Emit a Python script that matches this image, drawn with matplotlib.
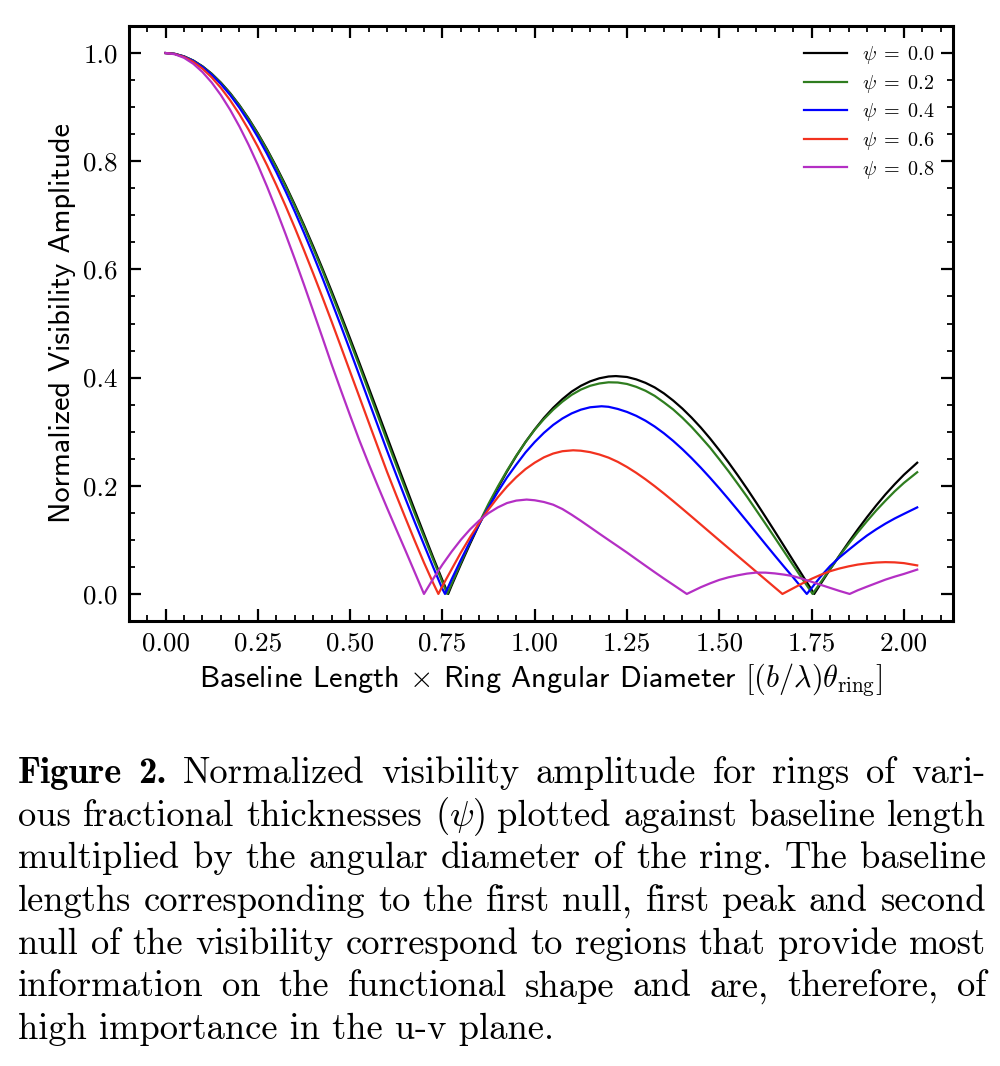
import matplotlib
matplotlib.use("Agg")
import matplotlib.pyplot as plt
from matplotlib.ticker import MultipleLocator, FormatStrFormatter

# ---------------- data ----------------
psi_labels = [r"$\psi\;=\;0.0$", r"$\psi\;=\;0.2$", r"$\psi\;=\;0.4$", r"$\psi\;=\;0.6$", r"$\psi\;=\;0.8$"]
psi_colors = ["#000000", "#2f7d1f", "#0000ff", "#f2321f", "#b42fc4"]

x_psi00 = [0.000, 0.025, 0.050, 0.075, 0.100, 0.125, 0.150, 0.175, 0.200, 0.225, 0.250, 0.275,
           0.300, 0.325, 0.350, 0.375, 0.400, 0.425, 0.450, 0.475, 0.500, 0.525, 0.550, 0.575,
           0.600, 0.625, 0.650, 0.675, 0.700, 0.725, 0.750, 0.7655, 0.775, 0.800, 0.825, 0.850,
           0.875, 0.900, 0.925, 0.950, 0.975, 1.000, 1.025, 1.050, 1.075, 1.100, 1.125, 1.150,
           1.175, 1.200, 1.2197, 1.250, 1.275, 1.300, 1.325, 1.350, 1.375, 1.400, 1.425, 1.450,
           1.475, 1.500, 1.525, 1.550, 1.575, 1.600, 1.625, 1.650, 1.675, 1.700, 1.725, 1.750,
           1.757, 1.775, 1.800, 1.825, 1.850, 1.875, 1.900, 1.925, 1.950, 1.975, 2.000, 2.036]
v_psi00 = [1.0, 0.9985, 0.9938, 0.9862, 0.9755, 0.9618, 0.9452, 0.9259, 0.9037, 0.8789, 0.8516,
           0.8219, 0.7899, 0.7559, 0.7198, 0.6820, 0.6425, 0.6016, 0.5594, 0.5161, 0.4720,
           0.4272, 0.3819, 0.3363, 0.2905, 0.2449, 0.1997, 0.1549, 0.1110, 0.0675, 0.0254, 0.0,
           0.0156, 0.0549, 0.0929, 0.1292, 0.1640, 0.1961, 0.2266, 0.2550, 0.2810, 0.3042,
           0.3255, 0.3441, 0.3602, 0.3741, 0.3848, 0.3930, 0.3987, 0.4020, 0.4028, 0.4011,
           0.3967, 0.3903, 0.3818, 0.3708, 0.3576, 0.3427, 0.3259, 0.3075, 0.2874, 0.2658,
           0.2431, 0.2193, 0.1946, 0.1689, 0.1426, 0.1159, 0.0889, 0.0617, 0.0346, 0.0076, 0.0,
           0.0191, 0.0454, 0.0707, 0.0954, 0.1192, 0.1420, 0.1636, 0.1840, 0.2028, 0.2203, 0.2426]

x_psi02 = [0.000, 0.025, 0.050, 0.075, 0.100, 0.125, 0.150, 0.175, 0.200, 0.225, 0.250, 0.275,
           0.300, 0.325, 0.350, 0.375, 0.400, 0.425, 0.450, 0.475, 0.500, 0.525, 0.550, 0.575,
           0.600, 0.625, 0.650, 0.675, 0.700, 0.725, 0.750, 0.763, 0.775, 0.800, 0.825, 0.850,
           0.875, 0.900, 0.925, 0.950, 0.975, 1.000, 1.025, 1.050, 1.075, 1.100, 1.125, 1.150,
           1.175, 1.200, 1.225, 1.250, 1.275, 1.300, 1.325, 1.350, 1.375, 1.400, 1.425, 1.450,
           1.475, 1.500, 1.525, 1.550, 1.575, 1.600, 1.625, 1.650, 1.675, 1.700, 1.725, 1.750,
           1.7527, 1.775, 1.800, 1.825, 1.850, 1.875, 1.900, 1.925, 1.950, 1.975, 2.000, 2.036]
v_psi02 = [1.0, 0.9985, 0.9938, 0.9860, 0.9752, 0.9614, 0.9447, 0.9251, 0.9028, 0.8778, 0.8502,
           0.8202, 0.7880, 0.7537, 0.7172, 0.6791, 0.6388, 0.5979, 0.5548, 0.5111, 0.4665,
           0.4216, 0.3755, 0.3295, 0.2834, 0.2381, 0.1933, 0.1488, 0.1060, 0.0633, 0.0216, 0.0,
           0.0188, 0.0581, 0.0960, 0.1322, 0.1668, 0.1985, 0.2281, 0.2556, 0.2807, 0.3036,
           0.3233, 0.3406, 0.3555, 0.3681, 0.3778, 0.3848, 0.3891, 0.3913, 0.3909, 0.3882,
           0.3829, 0.3757, 0.3662, 0.3541, 0.3411, 0.3257, 0.3087, 0.2899, 0.2705, 0.2489,
           0.2268, 0.2035, 0.1798, 0.1548, 0.1298, 0.1044, 0.0788, 0.0532, 0.0278, 0.0027, 0.0,
           0.0220, 0.0461, 0.0699, 0.0923, 0.1140, 0.1346, 0.1543, 0.1724, 0.1897, 0.2053, 0.2250]

x_psi04 = [0.000, 0.025, 0.050, 0.075, 0.100, 0.125, 0.150, 0.175, 0.200, 0.225, 0.250, 0.275,
           0.300, 0.325, 0.350, 0.375, 0.400, 0.425, 0.450, 0.475, 0.500, 0.525, 0.550, 0.575,
           0.600, 0.625, 0.650, 0.675, 0.700, 0.725, 0.750, 0.757, 0.775, 0.800, 0.825, 0.850,
           0.875, 0.900, 0.925, 0.950, 0.975, 1.000, 1.025, 1.050, 1.075, 1.100, 1.125, 1.150,
           1.181, 1.200, 1.225, 1.250, 1.275, 1.300, 1.325, 1.350, 1.375, 1.400, 1.425, 1.450,
           1.475, 1.500, 1.525, 1.550, 1.575, 1.600, 1.625, 1.650, 1.675, 1.700, 1.737, 1.750,
           1.775, 1.800, 1.825, 1.850, 1.875, 1.900, 1.925, 1.950, 1.975, 2.000, 2.036]
v_psi04 = [1.0, 0.9984, 0.9935, 0.9855, 0.9743, 0.9599, 0.9426, 0.9223, 0.8991, 0.8731, 0.8446,
           0.8135, 0.7801, 0.7446, 0.7070, 0.6676, 0.6266, 0.5841, 0.5402, 0.4956, 0.4500,
           0.4038, 0.3573, 0.3110, 0.2648, 0.2200, 0.1759, 0.1328, 0.0911, 0.0495, 0.0092, 0.0,
           0.0272, 0.0630, 0.0970, 0.1295, 0.1601, 0.1888, 0.2155, 0.2391, 0.2616, 0.2809,
           0.2979, 0.3125, 0.3244, 0.3338, 0.3407, 0.3451, 0.3470, 0.3460, 0.3420, 0.3365,
           0.3293, 0.3203, 0.3095, 0.2970, 0.2830, 0.2676, 0.2510, 0.2333, 0.2147, 0.1953,
           0.1753, 0.1548, 0.1340, 0.1130, 0.0920, 0.0712, 0.0507, 0.0307, 0.0, 0.0110, 0.0325,
           0.0515, 0.0672, 0.0813, 0.0950, 0.1080, 0.1195, 0.1300, 0.1395, 0.1480, 0.1600]

x_psi06 = [0.000, 0.025, 0.050, 0.075, 0.100, 0.125, 0.150, 0.175, 0.200, 0.225, 0.250, 0.275,
           0.300, 0.325, 0.350, 0.375, 0.400, 0.425, 0.450, 0.475, 0.500, 0.525, 0.550, 0.575,
           0.600, 0.625, 0.650, 0.675, 0.700, 0.725, 0.739, 0.750, 0.775, 0.800, 0.825, 0.850,
           0.875, 0.900, 0.925, 0.950, 0.975, 1.000, 1.025, 1.050, 1.075, 1.104, 1.125, 1.150,
           1.175, 1.200, 1.225, 1.250, 1.275, 1.300, 1.325, 1.350, 1.375, 1.400, 1.425, 1.450,
           1.475, 1.500, 1.525, 1.550, 1.575, 1.600, 1.625, 1.650, 1.671, 1.700, 1.725, 1.750,
           1.775, 1.800, 1.825, 1.850, 1.875, 1.900, 1.925, 1.950, 1.975, 2.000, 2.036]
v_psi06 = [1.0, 0.9982, 0.9927, 0.9837, 0.9711, 0.9550, 0.9355, 0.9128, 0.8870, 0.8582, 0.8267,
           0.7925, 0.7559, 0.7175, 0.6773, 0.6354, 0.5924, 0.5484, 0.5033, 0.4572, 0.4106,
           0.3643, 0.3178, 0.2716, 0.2257, 0.1824, 0.1400, 0.0983, 0.0579, 0.0200, 0.0, 0.0147,
           0.0458, 0.0766, 0.1050, 0.1318, 0.1564, 0.1786, 0.1986, 0.2159, 0.2308, 0.2427,
           0.2526, 0.2596, 0.2639, 0.2656, 0.2648, 0.2622, 0.2578, 0.2520, 0.2442, 0.2347,
           0.2239, 0.2120, 0.1992, 0.1857, 0.1717, 0.1574, 0.1429, 0.1283, 0.1137, 0.0991,
           0.0846, 0.0701, 0.0556, 0.0411, 0.0266, 0.0121, 0.0, 0.0105, 0.0195, 0.0280, 0.0355,
           0.0420, 0.0470, 0.0510, 0.0543, 0.0565, 0.0581, 0.0588, 0.0584, 0.0570, 0.0528]

x_psi08 = [0.000, 0.025, 0.050, 0.075, 0.100, 0.125, 0.150, 0.175, 0.200, 0.225, 0.250, 0.275,
           0.300, 0.325, 0.350, 0.375, 0.400, 0.425, 0.450, 0.475, 0.500, 0.525, 0.550, 0.575,
           0.600, 0.625, 0.650, 0.675, 0.700, 0.725, 0.750, 0.775, 0.800, 0.825, 0.850, 0.875,
           0.900, 0.925, 0.950, 0.978, 1.000, 1.025, 1.050, 1.075, 1.100, 1.125, 1.150, 1.175,
           1.200, 1.225, 1.250, 1.275, 1.300, 1.325, 1.350, 1.375, 1.400, 1.412, 1.425, 1.450,
           1.475, 1.500, 1.525, 1.550, 1.575, 1.600, 1.625, 1.650, 1.675, 1.700, 1.725, 1.750,
           1.775, 1.800, 1.825, 1.853, 1.875, 1.900, 1.925, 1.950, 1.975, 2.000, 2.036]
v_psi08 = [1.0, 0.9978, 0.9912, 0.9802, 0.9649, 0.9455, 0.9221, 0.8950, 0.8643, 0.8303, 0.7931,
           0.7530, 0.7102, 0.6655, 0.6194, 0.5718, 0.5229, 0.4738, 0.4240, 0.3765, 0.3297,
           0.2840, 0.2410, 0.1995, 0.1590, 0.1193, 0.0800, 0.0400, 0.0, 0.0281, 0.0543, 0.0783,
           0.1002, 0.1195, 0.1359, 0.1495, 0.1600, 0.1681, 0.1726, 0.1745, 0.1732, 0.1700,
           0.1650, 0.1570, 0.1465, 0.1352, 0.1234, 0.1115, 0.0998, 0.0882, 0.0765, 0.0643,
           0.0522, 0.0402, 0.0284, 0.0170, 0.0055, 0.0, 0.0043, 0.0125, 0.0196, 0.0260, 0.0308,
           0.0345, 0.0376, 0.0395, 0.0394, 0.0380, 0.0358, 0.0330, 0.0280, 0.0225, 0.0168,
           0.0112, 0.0057, 0.0, 0.0068, 0.0135, 0.0200, 0.0265, 0.0320, 0.0370, 0.0450]

series_x = [x_psi00, x_psi02, x_psi04, x_psi06, x_psi08]
series_v = [v_psi00, v_psi02, v_psi04, v_psi06, v_psi08]

x_ticks = [0.00, 0.25, 0.50, 0.75, 1.00, 1.25, 1.50, 1.75, 2.00]
y_ticks = [0.0, 0.2, 0.4, 0.6, 0.8, 1.0]

y_label = "Normalized Visibility Amplitude"
x_label = r"Baseline Length $\times$ Ring Angular Diameter $[(b/\lambda)\theta_{\rm ring}]$"

caption_lines = [
    "Figure 2. Normalized visibility amplitude for rings of vari-",
    "ous fractional thicknesses ($\\psi$) plotted against baseline length",
    "multiplied by the angular diameter of the ring. The baseline",
    "lengths corresponding to the first null, first peak and second",
    "null of the visibility correspond to regions that provide most",
    "information on the functional shape and are, therefore, of",
    "high importance in the u-v plane.",
]

# ---------------- figure ----------------
plt.rcParams["mathtext.fontset"] = "cm"
plt.rcParams["axes.unicode_minus"] = False

W_PX, H_PX = 1000, 1066
fig = plt.figure(figsize=(W_PX / 100, H_PX / 100), dpi=100)
ax = fig.add_axes([129 / W_PX, 1 - 621 / H_PX, (953 - 129) / W_PX, (621 - 26) / H_PX])

for xs, vs, lab, col in zip(series_x, series_v, psi_labels, psi_colors):
    ax.plot(xs, vs, color=col, lw=1.6, label=lab)

ax.set_xlim(-0.099, 2.133)
ax.set_ylim(-0.05, 1.05)
ax.set_xticks(x_ticks)
ax.set_yticks(y_ticks)
ax.xaxis.set_major_formatter(FormatStrFormatter("%.2f"))
ax.yaxis.set_major_formatter(FormatStrFormatter("%.1f"))
ax.xaxis.set_minor_locator(MultipleLocator(0.05))
ax.yaxis.set_minor_locator(MultipleLocator(0.05))
ax.tick_params(which="both", direction="in", top=True, right=True)
ax.tick_params(which="major", length=8.5, width=1.6, labelsize=19.5, pad=8)
ax.tick_params(which="minor", length=4.3, width=1.3)
for lab in ax.get_xticklabels() + ax.get_yticklabels():
    lab.set_fontfamily("cmr10")
for sp in ax.spines.values():
    sp.set_linewidth(2.2)

ax.set_ylabel(y_label, fontfamily="cmss10", fontsize=21.8, labelpad=5)
ax.set_xlabel(x_label, fontfamily="cmss10", fontsize=21.8, labelpad=4)

ax.legend(loc="upper right", frameon=False, fontsize=14.5, handlelength=2.14,
          labelspacing=0.33, borderaxespad=0.49, handletextpad=0.75)

# ---------------- caption (justified) ----------------
CAP_FS = 26.3
renderer = fig.canvas.get_renderer()
x_left, x_right = 18.0, 986.0
base0 = 783.0
step = 42.7
for i, line in enumerate(caption_lines):
    yfrac = 1 - (base0 + i * step) / H_PX
    if i == len(caption_lines) - 1:
        fig.text(x_left / W_PX, yfrac, line, family="cmr10", fontsize=CAP_FS, va="baseline", ha="left")
        continue
    words = line.split(" ")
    fams = ["cmr10"] * len(words)
    if i == 0:
        fams[0] = "cmb10"
        fams[1] = "cmb10"
    objs = [fig.text(0, yfrac, w, family=f, fontsize=CAP_FS, va="baseline", ha="left")
            for w, f in zip(words, fams)]
    widths = [o.get_window_extent(renderer).width for o in objs]
    gap = (x_right - x_left - sum(widths)) / (len(objs) - 1)
    xpos = x_left
    for o, w in zip(objs, widths):
        o.set_x(xpos / W_PX)
        xpos += w + gap

fig.savefig("out.png", dpi=100)
